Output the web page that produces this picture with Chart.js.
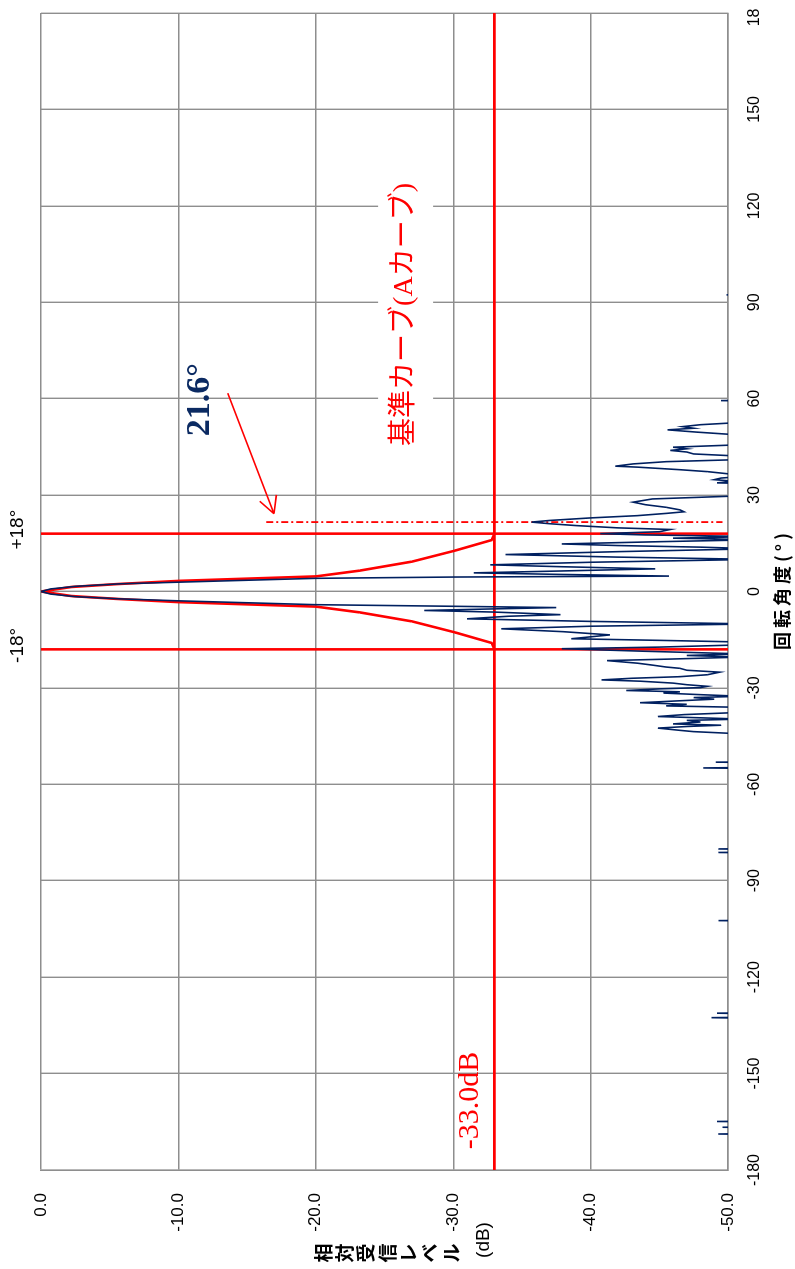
<!DOCTYPE html>
<html>
<head>
<meta charset="utf-8">
<script src="https://cdn.jsdelivr.net/npm/chart.js@4.4.0/dist/chart.umd.min.js"></script>
<style>
  html, body { margin: 0; padding: 0; background: #fff; overflow: hidden; width: 795px; height: 1269px; }
  /* the chart is drawn landscape and turned a quarter turn, like the original sheet */
  #wrap { position: absolute; left: 0; top: 0; width: 1269px; height: 795px;
          transform-origin: 0 0; transform: translate(0, 1269px) rotate(-90deg); }
</style>
</head>
<body>
<div id="wrap"><canvas id="patternChart" width="1269" height="795"></canvas></div>
<script>
// measured pattern: rotation angle (deg) and relative level (dB); -60 = below the scale
const measuredAngle = [
  -180, -170.1, -169.8, -169.3, -168.8, -168.2, -167.0, -166.7, -166.3, -165.3,
  -164.9, -164.5, -134.2, -133.8, -133.3, -132.6, -132.0, -131.2, -130.8, -112.7,
  -112.3, -111.9, -102.8, -102.4, -102.0, -81.6, -81.2, -80.7, -80.1, -79.7,
  -61.0, -60.7, -60.4, -55.4, -54.9, -54.3, -53.5, -53.1, -52.7, -45.0,
  -44.3, -43.6, -43.2, -42.5, -42.0, -41.6, -41.2, -40.6, -40.1, -39.7,
  -39.3, -38.9, -38.3, -37.6, -36.6, -36.0, -35.6, -35.1, -34.6, -34.1,
  -33.5, -33.0, -32.6, -32.1, -31.6, -31.2, -30.8, -30.3, -29.9, -29.5,
  -29.0, -28.5, -27.9, -27.5, -27.0, -26.5, -25.9, -25.1, -24.5, -23.9,
  -23.5, -22.9, -22.3, -21.5, -21.0, -20.4, -19.9, -19.4, -18.6, -17.8,
  -17.3, -16.6, -15.8, -15.2, -14.7, -14.1, -13.5, -12.5, -11.6, -10.8,
  -10.1, -9.3, -8.5, -7.7, -7.2, -6.4, -5.9, -5.5, -5.0, -4.6,
  -4.1, -3.5, -2.9, -2.3, -1.6, -0.8, 0,
  0.8, 1.6, 2.4, 2.9, 3.5, 4.1, 4.5, 4.8, 5.3, 5.8,
  6.4, 7.05, 7.7, 8.3, 9.1, 10.0, 10.7, 11.5, 12.4, 13.3,
  13.8, 14.3, 14.8, 15.5, 16.1, 16.6, 17.1, 17.6, 18.0, 18.6,
  19.3, 19.8, 20.5, 21.1, 21.6, 22.1, 22.9, 23.6, 24.3, 24.8,
  25.4, 26.2, 27.0, 27.8, 28.8, 29.7, 30.5, 33.3, 33.8, 34.3,
  34.8, 35.3, 35.8, 36.4, 37.3, 37.9, 38.7, 39.0, 39.7, 40.4,
  41.0, 41.6, 42.2, 42.8, 43.4, 43.9, 44.4, 44.9, 45.6, 46.5,
  48.3, 48.8, 49.6, 50.3, 50.8, 51.3, 51.9, 52.5, 53.2, 58.9,
  59.4, 59.9, 92.0, 92.3, 92.7, 180
];
const measuredLevel = [
  -60, -60, -50.3, -60, -49.3, -60, -60, -49.6, -60, -60,
  -49.2, -60, -60, -50.2, -60, -48.8, -60, -49.2, -60, -60,
  -50.1, -60, -60, -49.3, -60, -60, -49.3, -60, -49.3, -60,
  -60, -50.2, -60, -60, -48.2, -60, -60, -49.1, -60, -60,
  -51, -47.5, -46.5, -44.9, -47, -49.5, -46, -48, -47, -51,
  -48, -44.9, -46.8, -51, -55, -50.5, -45.5, -47, -43.6, -46,
  -49, -47.5, -51, -48, -45.3, -46.5, -42.6, -45, -48, -48.5,
  -47, -46, -43.6, -40.8, -43, -46.5, -48.5, -49.4, -47, -46.5,
  -45.5, -44.5, -43.4, -41.2, -46, -51, -47, -51, -44, -37.9,
  -45, -51, -52, -45, -38.6, -40, -41.4, -38, -33.5, -40,
  -52, -40, -31, -34, -37.8, -33, -27.9, -32, -37.5, -30,
  -20, -15, -10, -5.8, -2.5, -0.7, 0,
  -0.7, -2.5, -5.8, -10, -15, -20, -30, -45.7, -38, -31.5,
  -38, -44.7, -38, -32.7, -40, -52, -42, -33.8, -42, -52,
  -48, -42, -37.9, -45, -52, -46, -52, -44, -40.7, -45,
  -45.8, -42, -39, -37, -35.7, -37, -40, -43.4, -45.5, -46.8,
  -46.5, -45.5, -44, -43.1, -44.5, -50.5, -55, -55, -49.2, -50.5,
  -49, -49.5, -51, -50.5, -48.5, -46.5, -43.4, -41.8, -43.1, -45.5,
  -50.5, -52, -50.5, -47.5, -47, -45.8, -47, -46, -50.5, -55,
  -55, -50.5, -47.7, -45.6, -47.5, -46.7, -48, -50.5, -55, -60,
  -49.5, -60, -60, -49.9, -60, -60
];

// reference curve (A curve)
const curveAngle = [-18, -16, -12.8, -9.3, -6.5, -4.7, -3.3, -2.3, -1.4, 0, 1.4, 2.3, 3.3, 4.7, 6.5, 9.3, 12.8, 16, 18];
const curveLevel = [-33, -32.8, -30.2, -27, -23.2, -20, -10, -5.5, -2.2, 0, -2.2, -5.5, -10, -20, -23.2, -27, -30.2, -32.8, -33];

const limitAngles = [-18, 18];
const limitLevel = -33.0;
const lobeAngle = 21.6;
const lobeLevels = [-16.4, -49.6];

const angleRange = [-180, 180];
const levelRange = [-50, 0];
const angleStep = 30;
const levelStep = 10;

if (measuredAngle.length !== measuredLevel.length) console.error('pattern arrays differ in length');

const RED = '#ff0000';
const NAVY = '#002060';
const GRID = '#8e8e8e';

const toPoints = (xs, ys) => xs.map((a, i) => ({ x: a, y: ys[i] }));

const datasets = [
  { data: toPoints(measuredAngle, measuredLevel), borderColor: NAVY, borderWidth: 1.6, order: 0 },
  { data: toPoints(curveAngle, curveLevel), borderColor: RED, borderWidth: 2.6, order: 1 },
  { data: toPoints(angleRange, [limitLevel, limitLevel]), borderColor: RED, borderWidth: 2.6, order: 1 },
  { data: toPoints([lobeAngle, lobeAngle], lobeLevels), borderColor: RED, borderWidth: 1.8, borderDash: [7, 3, 2, 3], order: 1 }
];
limitAngles.forEach(a => {
  datasets.push({ data: toPoints([a, a], levelRange), borderColor: RED, borderWidth: 2.6, order: 1 });
});
datasets.forEach(d => { d.pointRadius = 0; d.fill = false; d.tension = 0; });

const notes = {
  id: 'notes',
  beforeDatasetsDraw(chart) {
    const { ctx, scales: { x, y } } = chart;
    ctx.save();
    ctx.font = '28px "Liberation Serif", "Noto Sans CJK JP"';
    const w = ctx.measureText('基準カーブ(Aカーブ)').width;
    const cx = x.getPixelForValue(86.2), cy = y.getPixelForValue(-26.5);
    ctx.fillStyle = '#fff';
    ctx.fillRect(cx - w / 2 - 12, cy - 27, w + 24, 55);
    ctx.restore();
  },
  afterDraw(chart) {
    const { ctx, scales: { x, y } } = chart;
    ctx.save();
    ctx.textAlign = 'center';
    ctx.textBaseline = 'middle';

    // axis titles
    ctx.fillStyle = '#000';
    ctx.font = 'bold 19px "Noto Sans CJK JP"';
    const yTitle = '相対受信レベル';
    [...yTitle].forEach((ch, i) => ctx.fillText(ch, 16, 313 + 21.3 * (i + 0.5)));
    ctx.font = '19px "Liberation Sans"';
    ctx.fillText('(dB)', 29, 484);
    ctx.font = 'bold 18px "Noto Sans CJK JP"';
    ctx.letterSpacing = '4px';
    ctx.fillText('回転角度(°)', (chart.chartArea.left + chart.chartArea.right) / 2 + 2, 782);
    ctx.letterSpacing = '0px';

    // ±18° labels above the plot
    ctx.font = '19px "Liberation Sans"';
    limitAngles.forEach(a => {
      ctx.fillText((a > 0 ? '+' : '') + a + '°', x.getPixelForValue(a) + 4, 18);
    });

    // curve name and limit level
    ctx.fillStyle = RED;
    ctx.font = '28px "Liberation Serif", "Noto Sans CJK JP"';
    ctx.fillText('基準カーブ(Aカーブ)', x.getPixelForValue(86.2), y.getPixelForValue(-26.5));
    ctx.font = '30px "Liberation Serif"';
    ctx.fillText(limitLevel.toFixed(1) + 'dB', x.getPixelForValue(-158.4), y.getPixelForValue(-31.2));

    // side lobe angle label with arrow
    ctx.fillStyle = '#0b2a62';
    ctx.font = 'bold 34px "Liberation Serif"';
    ctx.fillText(lobeAngle + '°', x.getPixelForValue(59.7), y.getPixelForValue(-11.6));

    const x0 = x.getPixelForValue(61.7), y0 = y.getPixelForValue(-13.6);
    const x1 = x.getPixelForValue(24.2), y1 = y.getPixelForValue(-16.96);
    const ang = Math.atan2(y0 - y1, x0 - x1);
    ctx.strokeStyle = RED;
    ctx.lineWidth = 1.6;
    ctx.beginPath();
    ctx.moveTo(x0, y0);
    ctx.lineTo(x1, y1);
    [-0.49, 0.49].forEach(d => {
      ctx.moveTo(x1, y1);
      ctx.lineTo(x1 + 19 * Math.cos(ang + d), y1 + 19 * Math.sin(ang + d));
    });
    ctx.stroke();

    // the original sheet was cut just past the plot edge
    ctx.fillStyle = '#fff';
    ctx.fillRect(1261, 0, 8, chart.height);
    ctx.restore();
  }
};

const ctx = document.getElementById('patternChart');
new Chart(ctx, {
  type: 'line',
  data: { datasets: datasets },
  options: {
    responsive: false,
    animation: false,
    events: [],
    layout: { padding: { top: 41, right: 13, left: 0, bottom: 0 } },
    plugins: { legend: { display: false }, tooltip: { enabled: false } },
    scales: {
      x: {
        type: 'linear',
        min: angleRange[0], max: angleRange[1],
        ticks: { stepSize: angleStep, padding: 17, color: '#000', maxRotation: 0, autoSkip: false,
                 font: { family: '"Liberation Sans"', size: 16 } },
        grid: { color: GRID, lineWidth: 1.4, drawTicks: false },
        border: { color: GRID, width: 1.4 },
        afterFit(s) { s.height = 67; s.paddingLeft = 0; s.paddingRight = 0; }
      },
      y: {
        type: 'linear',
        min: levelRange[0], max: levelRange[1],
        ticks: { stepSize: levelStep, padding: 23, color: '#000',
                 font: { family: '"Liberation Sans"', size: 17 },
                 callback: v => (v === 0 ? 0 : v).toFixed(1) },
        grid: { color: GRID, lineWidth: 1.4, drawTicks: false },
        border: { color: GRID, width: 1.4 },
        afterFit(s) { s.width = 99; s.paddingTop = 0; s.paddingBottom = 0; }
      }
    }
  },
  plugins: [notes]
});
</script>
</body>
</html>
